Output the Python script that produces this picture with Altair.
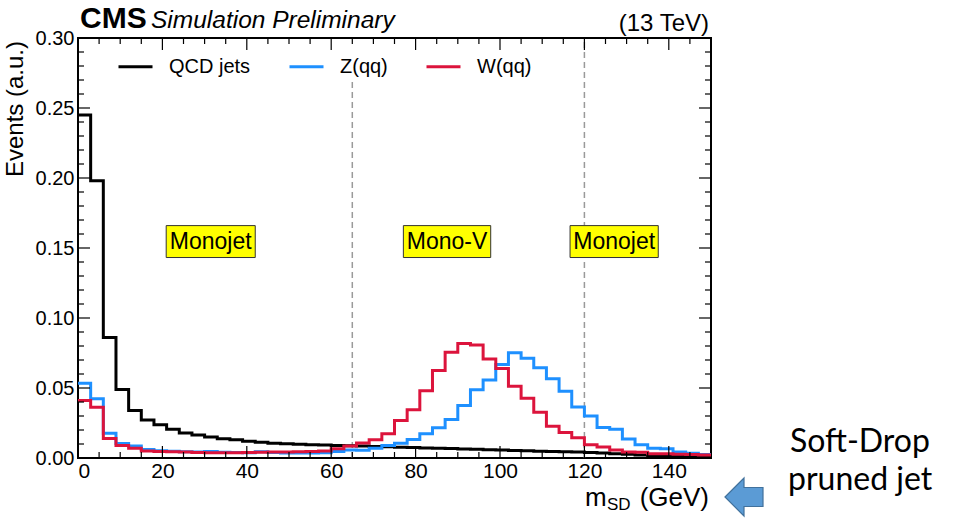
import altair as alt
import pandas as pd

# Soft-drop jet mass histograms, 3 GeV bins from 0 to 150 GeV (normalised, a.u.)
bin_width = 3.0
qcd_jets = [0.245, 0.198, 0.086, 0.049, 0.034, 0.0272, 0.0237, 0.0205, 0.0178, 0.0165,
            0.0150, 0.0138, 0.0130, 0.0120, 0.0113, 0.0106, 0.0101, 0.0098, 0.0095, 0.0092,
            0.0090, 0.0088, 0.0085, 0.0083, 0.0080, 0.0077, 0.0075, 0.0072, 0.0069, 0.0067,
            0.0064, 0.0062, 0.0059, 0.0057, 0.0054, 0.0052, 0.0049, 0.0047, 0.0044, 0.0042,
            0.0039, 0.0035, 0.0031, 0.0026, 0.0022, 0.0018, 0.0015, 0.0012, 0.0010, 0.0008]
z_qq = [0.0534, 0.0423, 0.0177, 0.0104, 0.0085, 0.0060, 0.0052, 0.0048, 0.0045, 0.0042,
        0.0047, 0.0041, 0.0040, 0.0038, 0.0044, 0.0040, 0.0036, 0.0035, 0.0036, 0.0038,
        0.0046, 0.0058, 0.0055, 0.0070, 0.0089, 0.0106, 0.0132, 0.0173, 0.0216, 0.0275,
        0.0375, 0.0487, 0.0558, 0.0668, 0.0751, 0.0712, 0.0644, 0.0566, 0.0477, 0.0365,
        0.0300, 0.0218, 0.0205, 0.0136, 0.0095, 0.0069, 0.0066, 0.0042, 0.0034, 0.0025]
w_qq = [0.0410, 0.0363, 0.0140, 0.0089, 0.0070, 0.0050, 0.0046, 0.0045, 0.0042, 0.0040,
        0.0038, 0.0037, 0.0038, 0.0040, 0.0041, 0.0043, 0.0043, 0.0044, 0.0046, 0.0050,
        0.0066, 0.0085, 0.0107, 0.0131, 0.0173, 0.0268, 0.0345, 0.0481, 0.0625, 0.0756,
        0.0818, 0.0808, 0.0708, 0.0640, 0.0512, 0.0427, 0.0327, 0.0226, 0.0182, 0.0144,
        0.0095, 0.0078, 0.0058, 0.0043, 0.0041, 0.0031, 0.0030, 0.0026, 0.0025, 0.0022]

series_names = ["QCD jets", "Z(qq)", "W(qq)"]
series_colors = ["#000000", "#1E90FF", "#DC143C"]

x_major = [0, 20, 40, 60, 80, 100, 120, 140]
x_minor = [v for v in range(5, 150, 5) if v % 20 != 0]
y_major = [0.00, 0.05, 0.10, 0.15, 0.20, 0.25, 0.30]
y_minor = [round(0.01 * k, 2) for k in range(1, 30) if k % 5 != 0]

# Mass-window boundaries and region labels
window_edges = [65, 120]
window_tops = [0.27, 0.30]
region_labels = ["Monojet", "Mono-V", "Monojet"]
region_lo = [20.9, 77.1, 116.6]
region_hi = [42.0, 97.8, 137.5]
region_y_lo = 0.1432
region_y_hi = 0.1660

W, H = 633, 420
FONT = "Liberation Sans"

# step-histogram outline: one point per low bin edge plus the closing upper edge
rows = []
for name, vals in zip(series_names, [qcd_jets, z_qq, w_qq]):
    for i, v in enumerate(vals):
        rows.append({"series": name, "m": i * bin_width, "events": v})
    rows.append({"series": name, "m": len(vals) * bin_width, "events": vals[-1]})
hist = pd.DataFrame(rows)

xs = alt.Scale(domain=[0, 150], nice=False, zero=False)
ys = alt.Scale(domain=[0, 0.30], nice=False, zero=True)

lines = alt.Chart(hist).mark_line(interpolate="step-after", strokeWidth=3, clip=True).encode(
    x=alt.X("m:Q", scale=xs, axis=alt.Axis(values=x_major, ticks=False, domain=False, grid=False,
                                           labelFontSize=21, labelPadding=2, title=None,
                                           labelFont=FONT, labelColor="black")),
    y=alt.Y("events:Q", scale=ys, axis=alt.Axis(values=y_major, format=".2f", ticks=False, domain=False,
                                                grid=False, labelFontSize=20, labelPadding=4, title=None,
                                                labelFont=FONT, labelColor="black")),
    color=alt.Color("series:N", scale=alt.Scale(domain=series_names, range=series_colors),
                    legend=alt.Legend(title=None, orient="none", legendX=39, legendY=10,
                                      direction="horizontal", symbolType="stroke",
                                      symbolStrokeWidth=3, symbolSize=1156, labelFontSize=20,
                                      labelFont=FONT, labelColor="black", labelOffset=15,
                                      columnPadding=32, padding=0)),
)

# window boundaries
cuts = pd.DataFrame({"m": window_edges, "lo": [0.0, 0.0], "hi": window_tops})
cut_rules = alt.Chart(cuts).mark_rule(color="#9a9a9a", strokeDash=[6, 4], strokeWidth=1.5).encode(
    x=alt.X("m:Q", scale=xs), y=alt.Y("lo:Q", scale=ys), y2="hi:Q")

# region boxes
regions = pd.DataFrame({"label": region_labels, "lo": region_lo, "hi": region_hi,
                        "ylo": [region_y_lo] * 3, "yhi": [region_y_hi] * 3})
regions["mid"] = (regions["lo"] + regions["hi"]) / 2
regions["ymid"] = (regions["ylo"] + regions["yhi"]) / 2
boxes = alt.Chart(regions).mark_rect(fill="#FFFF00", stroke="#333333", strokeWidth=1).encode(
    x=alt.X("lo:Q", scale=xs), x2="hi:Q", y=alt.Y("ylo:Q", scale=ys), y2="yhi:Q")
box_text = alt.Chart(regions).mark_text(font=FONT, fontSize=23, color="black", baseline="middle").encode(
    x=alt.X("mid:Q", scale=xs), y=alt.Y("ymid:Q", scale=ys), text="label:N")

# inward ticks on all four sides
xt = pd.DataFrame({"m": x_major + x_minor, "len": [12] * len(x_major) + [6] * len(x_minor)})
yt = pd.DataFrame({"v": y_major + y_minor, "len": [12] * len(y_major) + [6] * len(y_minor)})
tick_layers = []
for sub in (xt[xt.len == 12], xt[xt.len == 6]):
    L = int(sub.len.iloc[0])
    tick_layers.append(alt.Chart(sub).mark_rule(color="black", strokeWidth=1.2).encode(
        x=alt.X("m:Q", scale=xs), y=alt.value(H), y2=alt.value(H - L)))
    tick_layers.append(alt.Chart(sub).mark_rule(color="black", strokeWidth=1.2).encode(
        x=alt.X("m:Q", scale=xs), y=alt.value(0), y2=alt.value(L)))
for sub in (yt[yt.len == 12], yt[yt.len == 6]):
    L = int(sub.len.iloc[0])
    tick_layers.append(alt.Chart(sub).mark_rule(color="black", strokeWidth=1.2).encode(
        y=alt.Y("v:Q", scale=ys), x=alt.value(0), x2=alt.value(L)))
    tick_layers.append(alt.Chart(sub).mark_rule(color="black", strokeWidth=1.2).encode(
        y=alt.Y("v:Q", scale=ys), x=alt.value(W), x2=alt.value(W - L)))

one = pd.DataFrame({"k": [0]})


def label(text, x, y, size, weight="normal", style="normal", align="left", angle=0,
          baseline="alphabetic", font=FONT, color="black"):
    kw = dict(text=text, font=font, fontSize=size, fontWeight=weight, fontStyle=style,
              align=align, baseline=baseline, color=color)
    if angle:
        kw["angle"] = angle
    return alt.Chart(one).mark_text(**kw).encode(x=alt.value(x), y=alt.value(y))


texts = [
    label("CMS", 2, -10, 30, weight="bold"),
    label("Simulation Preliminary", 73, -10, 24.5, style="italic"),
    label("(13 TeV)", 631, -7, 24, align="right"),
    label("Events (a.u.)", -62, 3, 24, align="right", angle=270, baseline="middle"),
    label("m", 507, 468, 26),
    label("SD", 529, 472, 17),
    label("(GeV)", 631, 468, 26, align="right"),
    label("Soft-Drop", 712, 414, 32, font="Lato"),
    label("pruned jet", 710, 452, 32, font="Lato"),
]

arrow = alt.Chart(one).mark_point(
    shape="M -1 0 L 0 -1 L 0 -0.5 L 1 -0.5 L 1 0.5 L 0 0.5 L 0 1 Z",
    filled=True, fill="#5B9BD5", stroke="#41719C", strokeWidth=1.2, size=1444, opacity=1,
).encode(x=alt.value(666), y=alt.value(459))

chart = alt.layer(cut_rules, boxes, box_text, lines, *tick_layers, *texts, arrow).properties(
    width=W, height=H,
    autosize=alt.AutoSizeParams(type="none"),
    padding={"left": 78, "top": 38, "right": 243, "bottom": 61},
    background="white",
).configure_view(stroke="black", strokeWidth=2)

chart.save("out.html", embed_options={"renderer": "svg", "actions": False})
